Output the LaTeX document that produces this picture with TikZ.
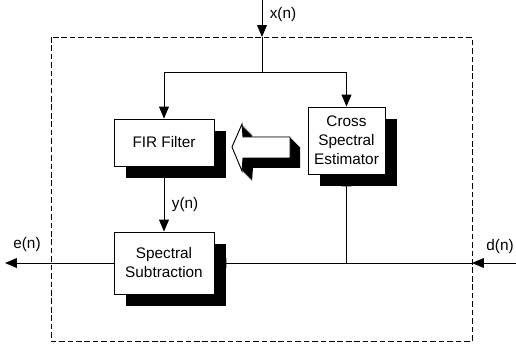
\documentclass[tikz,border=0pt]{standalone}
\usepackage{fontspec}
\setmainfont{Liberation Sans}
\usetikzlibrary{arrows.meta, shadows, backgrounds}

\tikzset{
	block/.style={draw, fill=white, line width=0.6pt, align=center,
		font=\fontsize{10.9}{13.5}\selectfont,
		drop shadow={shadow xshift=0.3cm, shadow yshift=-0.3cm, opacity=1, fill=black}},
	signal/.style={font=\fontsize{10.9}{13.5}\selectfont},
	wire/.style={line width=0.65pt},
	flow/.style={wire, arrows={-{Triangle[length=8.5pt, width=7pt]}}}
}

\begin{document}
\begin{tikzpicture}
	\useasboundingbox (0, 0) rectangle (12.9, 8.625);

	\coordinate (xin) at (6.55, 8.625);
	\coordinate (xbox) at (6.55, 7.7);
	\coordinate (split) at (6.55, 6.825);
	\coordinate (eout) at (0.125, 2.05);
	\coordinate (din) at (12.9, 2.05);
	\coordinate (dbox) at (11.8, 2.05);

	% system boundary
	\draw [wire, dash pattern=on 4pt off 2pt] (1.275, 7.7) rectangle (11.8, 0.1);

	\node [block, minimum width=2.5cm, minimum height=1.175cm] (fir) at (4.1, 5.0625) {FIR Filter};
	\node [block, minimum width=1.925cm, minimum height=1.675cm] (cse) at (8.6625, 5.1125) {Cross\\Spectral\\Estimator};
	\node [block, minimum width=2.5cm, minimum height=1.55cm] (ss) at (4.1, 2.05) {Spectral\\Subtraction};

	% weight update arrow
	\foreach \d in {0, 0.025, ..., 0.25}
		\fill [black, shift={(\d, -\d)}] (5.8, 4.95) -- (6.05, 5.525) -- (6.075, 5.2) -- (7.25, 5.2)
			-- (7.25, 4.675) -- (6.075, 4.675) -- (6.05, 4.35) -- cycle;
	\draw [wire, fill=white] (5.8, 4.95) -- (6.05, 5.525) -- (6.075, 5.2) -- (7.25, 5.2)
		-- (7.25, 4.675) -- (6.075, 4.675) -- (6.05, 4.35) -- cycle;

	\begin{scope}[on background layer]
		\draw [flow] (xin) -- (xbox);
		\draw [wire] (xbox) -- (split);
		\draw [flow] (split) -| (fir.north);
		\draw [flow] (split) -| (cse.north);
		\draw [flow] (fir) -- (ss) node [signal, pos=0.58, right=2pt] (yn) {y(n)};
		\draw [flow] (din) -- (dbox);
		\draw [flow] (dbox) -- (ss.east);
		\draw [flow] (cse.south |- dbox) -- (cse.south);
		\draw [flow] (ss.west) -- (eout);
	\end{scope}

	\node [signal] (xn) at (7.075, 8.25) {x(n)};
	\node [signal] (en) at (0.675, 2.5) {e(n)};
	\node [signal] (dn) at (12.5, 2.45) {d(n)};
\end{tikzpicture}
\end{document}
